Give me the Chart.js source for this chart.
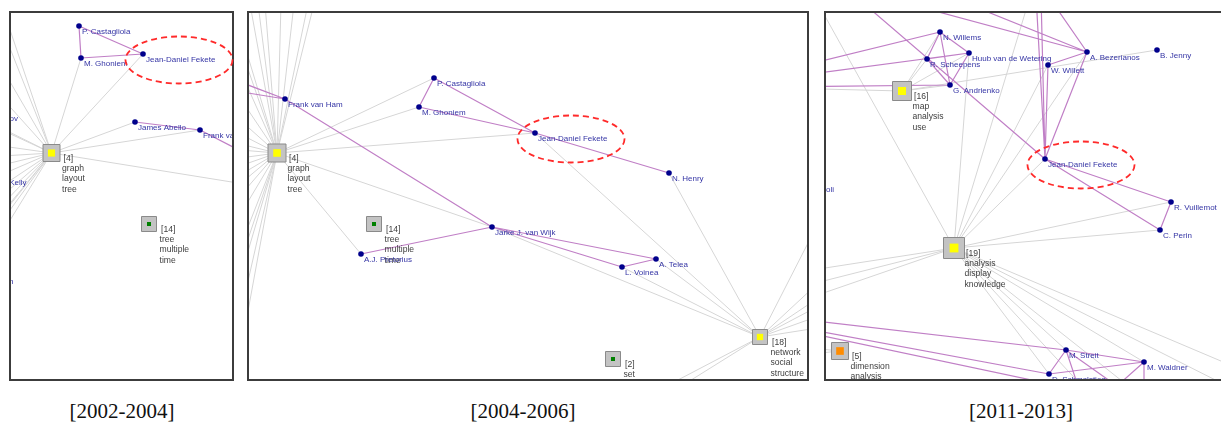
<!DOCTYPE html>
<html>
<head>
<meta charset="utf-8">
<script src="https://cdn.jsdelivr.net/npm/chart.js@4.4.1/dist/chart.umd.min.js"></script>
<style>
  body { margin: 0; background: #fff; width: 1221px; height: 424px; overflow: hidden; position: relative; }
  .panel { position: absolute; top: 0; }
  .caption { position: absolute; top: 399px; height: 24px; line-height: 24px; width: 200px; text-align: center;
             font-family: "Liberation Serif", "Times New Roman", serif; font-size: 21px; color: #111; }
</style>
</head>
<body>
<div class="panel" style="left:0px"><canvas id="c1" width="247" height="392"></canvas></div>
<div class="panel" style="left:240px"><canvas id="c2" width="575" height="392"></canvas></div>
<div class="panel" style="left:815px"><canvas id="c3" width="406" height="392"></canvas></div>
<div class="caption" style="left:22px">[2002-2004]</div>
<div class="caption" style="left:423px">[2004-2006]</div>
<div class="caption" style="left:921px">[2011-2013]</div>
<script>
// ---------- [2002-2004] ----------
const p1Authors = ["P. Castagliola", "M. Ghoniem", "Jean-Daniel Fekete", "James Abello", "Frank van Ham", "S. Kobourov", "D. Kelly", "B. Shneiderman"];
const p1AuthorX = [79, 81, 143, 135, 200, -29, -4, -47];
const p1AuthorY = [26, 58, 54, 122, 130, 113, 177, 276];
const p1Topics = ["[4]", "[14]"];
const p1TopicWords = [["graph", "layout", "tree"], ["tree", "multiple", "time"]];
const p1TopicX = [51.5, 149];
const p1TopicY = [153, 224];
const p1TopicWeight = [17, 15];
const p1TopicState = ["hot", "cool"];
// unlabeled nodes outside the visible window
const p1OffX = [266, 300, 2, 2, 2, 2, 2, 2, 2, 2, 2, 2, 2, 2, 2, 4];
const p1OffY = [164, 193, 6, 28, 68, 98, 130, 146, 156, 165, 186, 196, 205, 213, 221, 230];
const p1CoAuthor = [["P. Castagliola", "M. Ghoniem"], ["P. Castagliola", "Jean-Daniel Fekete"], ["M. Ghoniem", "Jean-Daniel Fekete"],
  ["James Abello", "Frank van Ham"], ["Frank van Ham", "o0"]];
const p1TopicLinks = [["[4]", "M. Ghoniem"], ["[4]", "Jean-Daniel Fekete"], ["[4]", "James Abello"], ["[4]", "Frank van Ham"], ["[4]", "o1"],
  ["[4]", "S. Kobourov"], ["[4]", "D. Kelly"], ["[4]", "B. Shneiderman"],
  ["[4]", "o2"], ["[4]", "o3"], ["[4]", "o4"], ["[4]", "o5"], ["[4]", "o6"], ["[4]", "o7"], ["[4]", "o8"], ["[4]", "o9"],
  ["[4]", "o10"], ["[4]", "o11"], ["[4]", "o12"], ["[4]", "o13"], ["[4]", "o14"], ["[4]", "o15"]];

// ---------- [2004-2006] ----------
const p2Authors = ["Frank van Ham", "P. Castagliola", "M. Ghoniem", "Jean-Daniel Fekete", "N. Henry", "Jarke J. van Wijk", "A.J. Pretorius", "A. Telea", "L. Voinea"];
const p2AuthorX = [285, 434, 419, 535, 669, 492, 361, 656, 622];
const p2AuthorY = [99, 78, 107, 133, 173, 227, 254, 259, 267];
const p2Topics = ["[4]", "[14]", "[18]", "[2]"];
const p2TopicWords = [["graph", "layout", "tree"], ["tree", "multiple", "time"], ["network", "social", "structure"], ["set"]];
const p2TopicX = [277, 374, 760, 613];
const p2TopicY = [153, 224, 337, 359];
const p2TopicWeight = [18, 15, 15, 15];
const p2TopicState = ["hot", "cool", "hot", "cool"];
const p2OffX = [211, 211, 250, 258, 265, 281, 294, 308, 314,
  240, 240, 240, 240, 240, 240, 240, 240, 240, 240, 240, 240, 240, 246, 246, 246, 246, 246, 246,
  830, 830, 830, 830, 830, 830, 655, 672];
const p2OffY = [71, 87, 4, 4, 4, 4, 4, 4, 4,
  30, 46, 70, 98, 120, 134, 144, 150, 158, 166, 175, 184, 196, 205, 232, 245, 258, 290, 322,
  200, 272, 290, 300, 312, 326, 392, 392];
const p2CoAuthor = [["Frank van Ham", "o0"], ["Frank van Ham", "o1"], ["Frank van Ham", "Jarke J. van Wijk"],
  ["P. Castagliola", "M. Ghoniem"], ["P. Castagliola", "Jean-Daniel Fekete"], ["M. Ghoniem", "Jean-Daniel Fekete"],
  ["Jean-Daniel Fekete", "N. Henry"], ["Jarke J. van Wijk", "A.J. Pretorius"], ["Jarke J. van Wijk", "A. Telea"],
  ["Jarke J. van Wijk", "L. Voinea"], ["A. Telea", "L. Voinea"]];
const p2TopicLinks = [["[4]", "P. Castagliola"], ["[4]", "M. Ghoniem"], ["[4]", "Jean-Daniel Fekete"], ["[4]", "Jarke J. van Wijk"], ["[4]", "A.J. Pretorius"],
  ["[4]", "o2"], ["[4]", "o3"], ["[4]", "o4"], ["[4]", "o5"], ["[4]", "o6"], ["[4]", "o7"], ["[4]", "o8"],
  ["[4]", "o9"], ["[4]", "o10"], ["[4]", "o11"], ["[4]", "o12"], ["[4]", "o13"], ["[4]", "o14"], ["[4]", "o15"], ["[4]", "o16"],
  ["[4]", "o17"], ["[4]", "o18"], ["[4]", "o19"], ["[4]", "o20"], ["[4]", "o21"], ["[4]", "o22"], ["[4]", "o23"], ["[4]", "o24"],
  ["[4]", "o25"], ["[4]", "o26"], ["[4]", "o27"],
  ["[18]", "Jarke J. van Wijk"], ["[18]", "L. Voinea"], ["[18]", "A. Telea"], ["[18]", "Jean-Daniel Fekete"], ["[18]", "N. Henry"],
  ["[18]", "o28"], ["[18]", "o29"], ["[18]", "o30"], ["[18]", "o31"], ["[18]", "o32"], ["[18]", "o33"], ["[18]", "o34"], ["[18]", "o35"]];

// ---------- [2011-2013] ----------
const p3Authors = ["N. Willems", "Huub van de Wetering", "R. Scheepens", "G. Andrienko", "A. Bezerianos", "B. Jenny", "W. Willett",
  "Jean-Daniel Fekete", "R. Vuillemot", "C. Perin", "M. Streit", "M. Waldner", "D. Schmalstieg", "R. Paoli"];
const p3AuthorX = [940, 969, 927, 950, 1087, 1157, 1048, 1045, 1171, 1160, 1066, 1144, 1049, 803];
const p3AuthorY = [32, 53, 59, 85, 52, 50, 65, 159, 202, 230, 350, 362, 374, 184];
const p3Topics = ["[16]", "[19]", "[5]"];
const p3TopicWords = [["map", "analysis", "use"], ["analysis", "display", "knowledge"], ["dimension", "analysis", "reduction"]];
const p3TopicX = [902, 954, 840];
const p3TopicY = [91, 248, 351];
const p3TopicWeight = [19, 21, 17];
const p3TopicState = ["hot", "hot", "new"];
const p3OffX = [780, 780, 780, 848, 1036, 1041, 1051, 958, 857, 780, 780, 780, 1060, 1144, 1117, 1080,
  780, 816, 1029, 780, 780, 780, 1095, 1146, 1255, 1313, 780, 780];
const p3OffY = [71, 78, 87, -10, -5, -5, 0, 0, -10, 317, 324, 327, 386, 400, 386, 392,
  88, 0, 0, 275, 292, 308, 400, 400, 400, 400, 345, 357];
const p3CoAuthor = [["N. Willems", "Huub van de Wetering"], ["N. Willems", "R. Scheepens"], ["N. Willems", "G. Andrienko"],
  ["Huub van de Wetering", "R. Scheepens"], ["Huub van de Wetering", "G. Andrienko"], ["R. Scheepens", "G. Andrienko"],
  ["o0", "N. Willems"], ["o1", "Huub van de Wetering"], ["o2", "G. Andrienko"],
  ["o3", "Jean-Daniel Fekete"], ["o4", "Jean-Daniel Fekete"], ["o5", "Jean-Daniel Fekete"],
  ["o6", "A. Bezerianos"], ["o7", "A. Bezerianos"], ["o8", "A. Bezerianos"],
  ["W. Willett", "Jean-Daniel Fekete"], ["A. Bezerianos", "Jean-Daniel Fekete"], ["A. Bezerianos", "W. Willett"],
  ["Jean-Daniel Fekete", "R. Vuillemot"], ["Jean-Daniel Fekete", "C. Perin"], ["R. Vuillemot", "C. Perin"],
  ["o9", "M. Streit"], ["o10", "D. Schmalstieg"], ["o11", "o12"],
  ["M. Streit", "M. Waldner"], ["M. Streit", "D. Schmalstieg"], ["D. Schmalstieg", "M. Waldner"],
  ["M. Waldner", "o13"], ["M. Streit", "o14"], ["M. Waldner", "o14"], ["M. Streit", "o15"]];
const p3TopicLinks = [["[16]", "R. Scheepens"], ["[16]", "N. Willems"], ["[16]", "Huub van de Wetering"], ["[16]", "G. Andrienko"],
  ["[16]", "B. Jenny"], ["[16]", "o16"],
  ["[19]", "o17"], ["[19]", "o18"], ["[19]", "Huub van de Wetering"], ["[19]", "W. Willett"], ["[19]", "A. Bezerianos"],
  ["[19]", "Jean-Daniel Fekete"], ["[19]", "R. Vuillemot"], ["[19]", "C. Perin"],
  ["[19]", "o19"], ["[19]", "o20"], ["[19]", "o21"],
  ["[19]", "M. Streit"], ["[19]", "D. Schmalstieg"], ["[19]", "M. Waldner"],
  ["[19]", "o22"], ["[19]", "o23"], ["[19]", "o24"], ["[19]", "o25"],
  ["[5]", "o26"], ["[5]", "o27"]];

const highlight = "Jean-Daniel Fekete";

const stateColor = { hot: "#ffff00", cool: "#008000", new: "#ff8c00" };
const stateInner = { hot: 0.42, cool: 0.27, new: 0.45 };

function makePanel(authors, ax, ay, topics, words, tx, ty, weight, state, offX, offY, coAuthor, topicLinks) {
  const pos = {};
  authors.forEach((n, i) => { pos[n] = { x: ax[i], y: ay[i] }; });
  topics.forEach((n, i) => { pos[n] = { x: tx[i], y: ty[i] }; });
  offX.forEach((x, i) => { pos["o" + i] = { x: x, y: offY[i] }; });
  const seg = (edges) => {
    const out = [];
    edges.forEach(([a, b]) => { out.push(pos[a], pos[b], { x: null, y: null }); });
    return out;
  };
  return { authors, ax, ay, topics, words, tx, ty, weight, state, gray: seg(topicLinks), purple: seg(coAuthor) };
}

const panels = [
  makePanel(p1Authors, p1AuthorX, p1AuthorY, p1Topics, p1TopicWords, p1TopicX, p1TopicY, p1TopicWeight, p1TopicState, p1OffX, p1OffY, p1CoAuthor, p1TopicLinks),
  makePanel(p2Authors, p2AuthorX, p2AuthorY, p2Topics, p2TopicWords, p2TopicX, p2TopicY, p2TopicWeight, p2TopicState, p2OffX, p2OffY, p2CoAuthor, p2TopicLinks),
  makePanel(p3Authors, p3AuthorX, p3AuthorY, p3Topics, p3TopicWords, p3TopicX, p3TopicY, p3TopicWeight, p3TopicState, p3OffX, p3OffY, p3CoAuthor, p3TopicLinks)
];

// canvas frames: visible window of each layout (page pixels) and padding around it
const frames = [
  { id: "c1", x: [10, 233], y: [12, 380], pad: { left: 10, top: 12, right: 14, bottom: 12 }, rightEdge: true },
  { id: "c2", x: [248, 808], y: [12, 380], pad: { left: 8, top: 12, right: 7, bottom: 12 }, rightEdge: true },
  { id: "c3", x: [825, 1221], y: [12, 380], pad: { left: 10, top: 12, right: 0, bottom: 12 }, rightEdge: false }
];

const labelPlugin = {
  id: "netLabels",
  afterDatasetsDraw(chart, args, opts) {
    const p = opts.panel;
    const { ctx, chartArea: a, scales } = chart;
    const X = (v) => scales.x.getPixelForValue(v);
    const Y = (v) => scales.y.getPixelForValue(v);
    ctx.save();
    ctx.beginPath();
    ctx.rect(a.left, a.top, a.right - a.left, a.bottom - a.top);
    ctx.clip();
    ctx.textBaseline = "middle";
    ctx.font = "8.6px 'Liberation Sans', Arial, sans-serif";
    ctx.fillStyle = "#404040";
    p.topics.forEach((t, i) => {
      const px = X(p.tx[i]), py = Y(p.ty[i]);
      ctx.fillText(t, px + 12, py + 5.5);
      p.words[i].forEach((w, k) => ctx.fillText(w, px + 10.5, py + 5.5 + 10.3 * (k + 1)));
    });
    ctx.font = "8px 'Liberation Sans', Arial, sans-serif";
    ctx.fillStyle = "#3535a5";
    p.authors.forEach((n, i) => {
      ctx.fillText(n, X(p.ax[i]) + 3, Y(p.ay[i]) + 5.5);
    });
    ctx.restore();
  },
  afterDraw(chart, args, opts) {
    const p = opts.panel;
    const { ctx, chartArea: a, scales } = chart;
    // frame
    ctx.save();
    ctx.strokeStyle = "#3c3c3c";
    ctx.lineWidth = 2;
    ctx.beginPath();
    if (opts.rightEdge) {
      ctx.rect(a.left, a.top, a.right - a.left, a.bottom - a.top);
    } else {
      ctx.moveTo(a.right + 2, a.top); ctx.lineTo(a.left, a.top); ctx.lineTo(a.left, a.bottom); ctx.lineTo(a.right + 2, a.bottom);
    }
    ctx.stroke();
    // dashed highlight around the focus author
    const i = p.authors.indexOf(highlight);
    if (i >= 0) {
      const cx = scales.x.getPixelForValue(p.ax[i]) + 36;
      const cy = scales.y.getPixelForValue(p.ay[i]) + 6;
      ctx.strokeStyle = "#ff2a2a";
      ctx.lineWidth = 1.8;
      ctx.setLineDash([6, 4]);
      ctx.beginPath();
      ctx.ellipse(cx, cy, 53.5, 23.5, 0, 0, Math.PI * 2);
      ctx.stroke();
    }
    ctx.restore();
  }
};

panels.forEach((p, k) => {
  const f = frames[k];
  new Chart(document.getElementById(f.id), {
    type: "scatter",
    data: {
      datasets: [
        { data: p.gray, showLine: true, borderColor: "#d6d6d6", borderWidth: 1, pointRadius: 0, clip: 0, order: 5 },
        { data: p.purple, showLine: true, borderColor: "#c07fc6", borderWidth: 1.2, pointRadius: 0, clip: 0, order: 4 },
        {
          data: p.tx.map((x, i) => ({ x: x, y: p.ty[i] })), order: 3,
          pointStyle: "rect", pointRadius: p.weight.map((w) => w / Math.SQRT2),
          backgroundColor: "#c3c3c3", borderColor: "#8a8a8a", borderWidth: 1, clip: 0
        },
        {
          data: p.tx.map((x, i) => ({ x: x, y: p.ty[i] })), order: 2,
          pointStyle: "rect", pointRadius: p.weight.map((w, i) => w * stateInner[p.state[i]] / Math.SQRT2),
          backgroundColor: p.state.map((s) => stateColor[s]), borderWidth: 0, clip: 0
        },
        {
          data: p.ax.map((x, i) => ({ x: x, y: p.ay[i] })), order: 1,
          pointRadius: 2.8, backgroundColor: "#00008c", borderWidth: 0, clip: 0
        }
      ]
    },
    options: {
      responsive: false,
      animation: false,
      events: [],
      layout: { padding: f.pad, autoPadding: false },
      scales: {
        x: { type: "linear", min: f.x[0], max: f.x[1], display: false },
        y: { type: "linear", min: f.y[0], max: f.y[1], reverse: true, display: false }
      },
      plugins: {
        legend: { display: false },
        tooltip: { enabled: false },
        netLabels: { panel: p, rightEdge: f.rightEdge }
      }
    },
    plugins: [labelPlugin]
  });
});
</script>
</body>
</html>
